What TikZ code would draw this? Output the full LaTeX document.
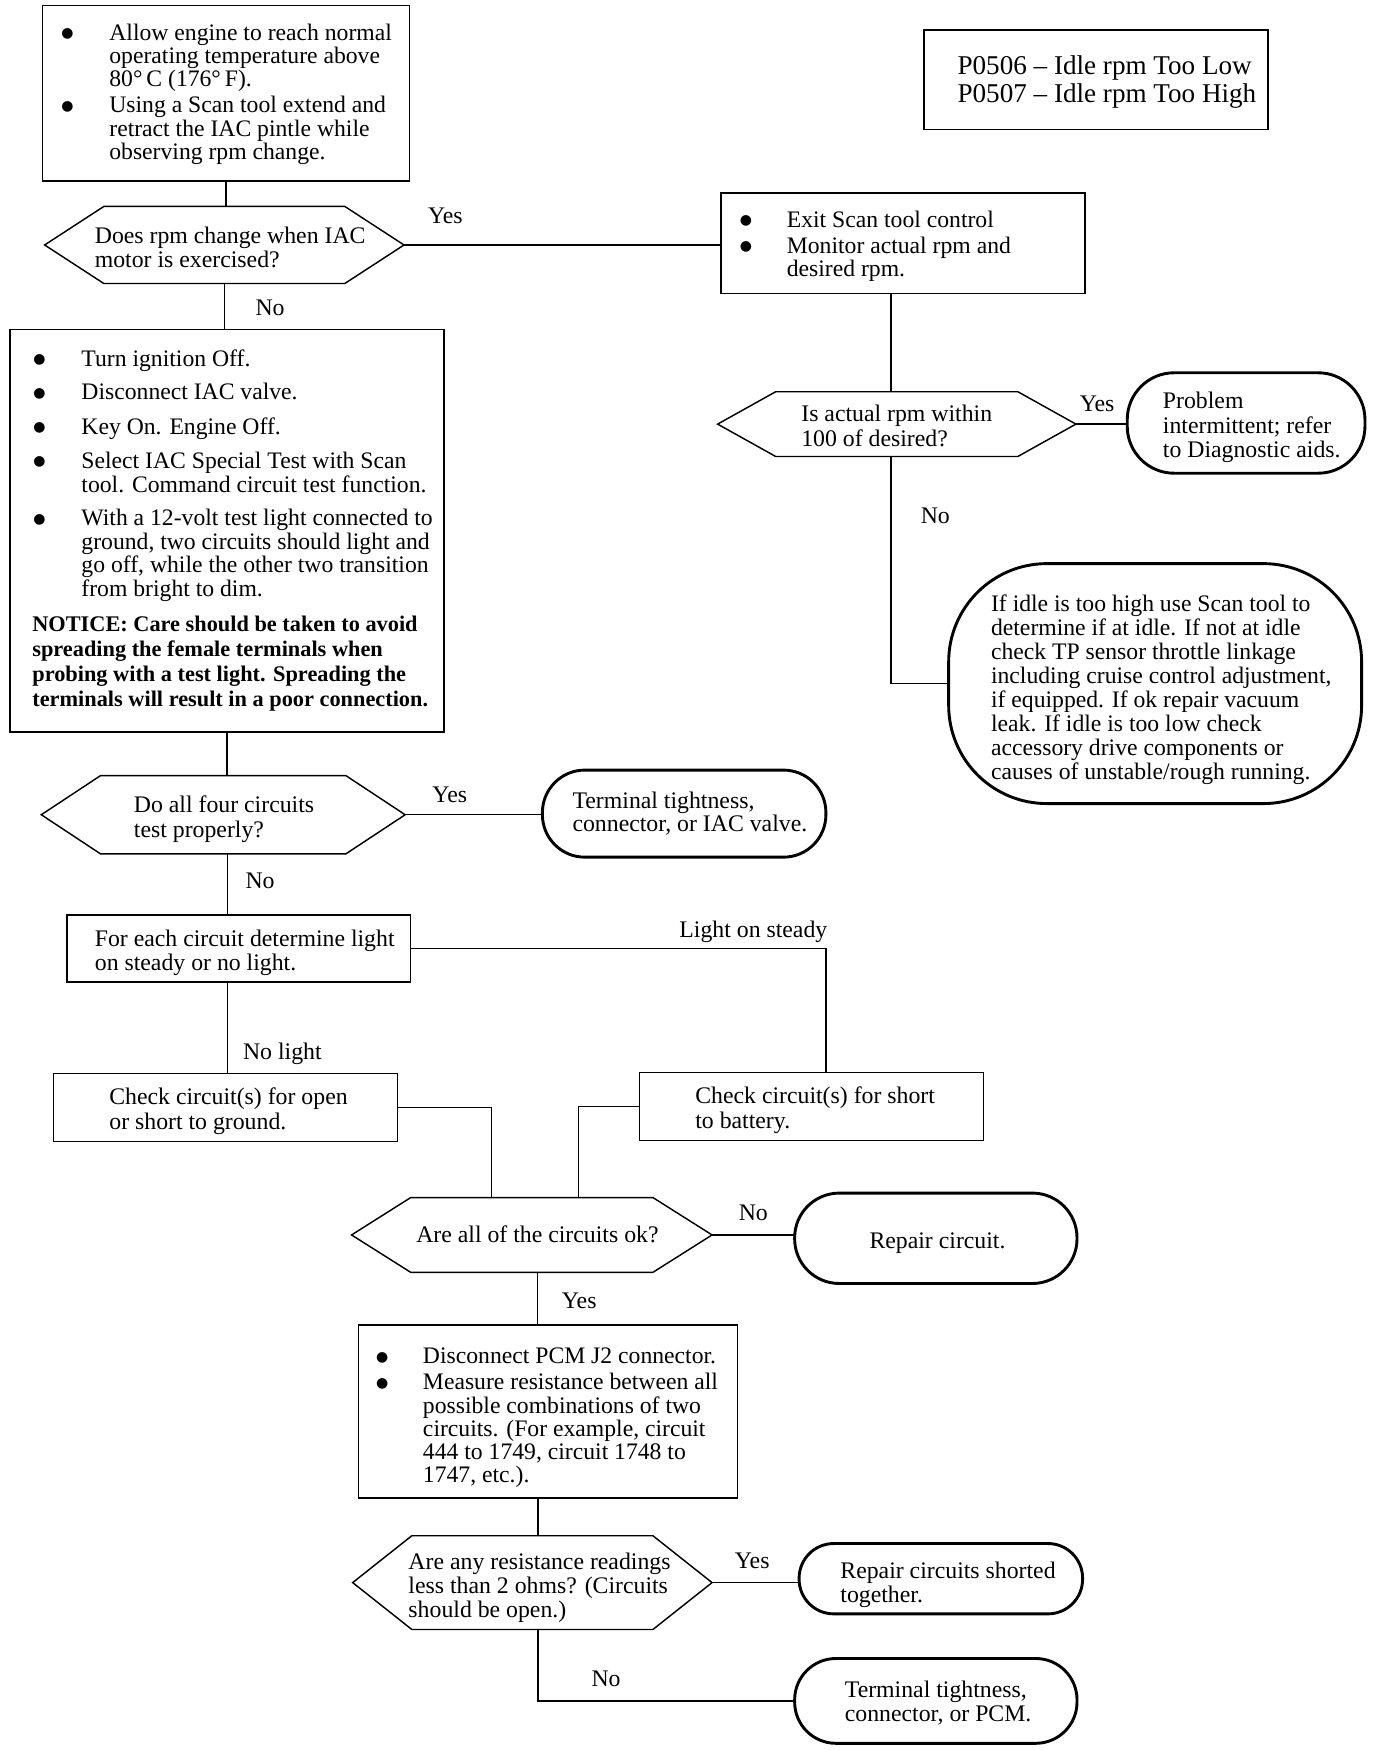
\documentclass[tikz,border=0pt]{standalone}
\usepackage{fontspec}
\setmainfont{Liberation Serif}
\newfontfamily\bulfont{DejaVu Sans}
\usetikzlibrary{calc}
\newcommand{\fsz}[2]{\fontsize{#1}{#2}\selectfont}
\newcommand{\bu}{\raisebox{2.5pt}{\bulfont\fontsize{12.5}{12.5}\selectfont ●}}
\newcommand{\lines}[1]{\begin{tabular}[t]{@{}l@{}}#1\end{tabular}}
\newcommand{\blines}[2]{\begin{tabular}[t]{@{}p{#1}@{}l@{}}#2\end{tabular}}
\newcommand{\hexdraw}[2]{\draw[conn] (#1.west) -- ([xshift=#2pt]#1.north west) -- ([xshift=-#2pt]#1.north east) -- (#1.east) -- ([xshift=-#2pt]#1.south east) -- ([xshift=#2pt]#1.south west) -- cycle;}
\begin{document}
\begin{tikzpicture}[x=1pt,y=-1pt,
  box/.style={draw, line width=1.3pt, inner sep=0pt, outer sep=0pt, anchor=north west},
  term/.style={draw, line width=2.6pt, inner sep=0pt, outer sep=0pt, anchor=north west},
  hexa/.style={inner sep=0pt, outer sep=0pt, anchor=north west},
  txt/.style={inner sep=0pt, outer sep=0pt, anchor=base west},
  lbl/.style={inner sep=0pt, outer sep=0pt, anchor=base, font=\fsz{21.3}{22}},
  conn/.style={line width=1.3pt}]
\fill[white] (0,0) rectangle (1233,1568);
\useasboundingbox (0,0) rectangle (1233,1568);

% ---------- shapes ----------
\node[box, minimum width=329pt, minimum height=157pt] (b1) at (38,5) {};
\node[box, minimum width=308pt, minimum height=89pt] (title) at (828,27) {};
\node[hexa, minimum width=322pt, minimum height=69pt] (d1) at (40,185) {};
\hexdraw{d1}{53}
\node[box, minimum width=326pt, minimum height=90pt] (e) at (646,173) {};
\node[hexa, minimum width=321pt, minimum height=58pt] (d2) at (643,351) {};
\hexdraw{d2}{52}
\node[term, rounded corners=42pt, minimum width=213pt, minimum height=90pt] (t1) at (1010,334) {};
\node[term, rounded corners=88pt, minimum width=370pt, minimum height=215pt] (big) at (850,505) {};
\node[box, minimum width=389pt, minimum height=361pt] (b3) at (9,295) {};
\node[hexa, minimum width=326pt, minimum height=70pt] (d3) at (37,695) {};
\hexdraw{d3}{53}
\node[term, rounded corners=38pt, minimum width=254pt, minimum height=78pt] (t2) at (486,690) {};
\node[box, minimum width=308pt, minimum height=60pt] (b4) at (60,820) {};
\node[box, minimum width=308pt, minimum height=61pt] (b5) at (48,962) {};
\node[box, minimum width=308pt, minimum height=61pt] (b6) at (573,961) {};
\node[hexa, minimum width=323pt, minimum height=67pt] (d4) at (315,1073) {};
\hexdraw{d4}{53}
\node[term, rounded corners=40pt, minimum width=253pt, minimum height=81pt] (t3) at (712,1069) {};
\node[box, minimum width=340pt, minimum height=155pt] (b7) at (321,1187) {};
\node[hexa, minimum width=322pt, minimum height=84pt] (d5) at (316,1376) {};
\hexdraw{d5}{53}
\node[term, rounded corners=31pt, minimum width=254pt, minimum height=63pt] (t4) at (716,1383) {};
\node[term, rounded corners=37pt, minimum width=253pt, minimum height=76pt] (t5) at (712,1486) {};

% ---------- texts ----------
\node[txt, font=\fsz{21.2}{20.5}] (tb1) at (55,36) {\blines{43pt}{%
\bu & Allow engine to reach normal\\
 & operating temperature above\\
 & 80°\,C (176°\,F).\\[2.5pt]
\bu & Using a Scan tool extend and\\
 & retract the IAC pintle while\\
 & observing rpm change.}};
\node[txt, font=\fsz{24.3}{25}] (ttitle) at (858,67) {\lines{P0506 -- Idle rpm Too Low\\ P0507 -- Idle rpm Too High}};
\node[txt, font=\fsz{21.3}{22}] (td1) at (85,218) {\lines{Does rpm change when IAC\\ motor is exercised?}};
\node[txt, font=\fsz{21.2}{21}] (te) at (663,204) {\blines{42pt}{%
\bu & Exit Scan tool control\\[2pt]
\bu & Monitor actual rpm and\\
 & desired rpm.}};
\node[txt, font=\fsz{21.3}{22}] (td2) at (718,378) {\lines{Is actual rpm within\\ 100 of desired?}};
\node[txt, font=\fsz{21.3}{22}] (tt1) at (1042,366) {\lines{Problem\\ intermittent; refer\\ to Diagnostic aids.}};
\node[txt, font=\fsz{21.2}{21.5}] (tbig) at (888,548) {\lines{If idle is too high use Scan tool to\\
determine if at idle. If not at idle\\
check TP sensor throttle linkage\\
including cruise control adjustment,\\
if equipped. If ok repair vacuum\\
leak. If idle is too low check\\
accessory drive components or\\
causes of unstable/rough running.}};
\node[txt, font=\fsz{21.2}{20.5}] (tb3) at (30,328) {\blines{43pt}{%
\bu & Turn ignition Off.\\[9.5pt]
\bu & Disconnect IAC valve.\\[10pt]
\bu & Key On. Engine Off.\\[9.5pt]
\bu & Select IAC Special Test with Scan\\
 & tool. Command circuit test function.\\[9.5pt]
\bu & With a 12-volt test light connected to\\
 & ground, two circuits should light and\\
 & go off, while the other two transition\\
 & from bright to dim.}};
\node[txt, font=\fsz{20}{22.3}\bfseries] (tnotice) at (29,566) {\lines{NOTICE: Care should be taken to avoid\\
spreading the female terminals when\\
probing with a test light. Spreading the\\
terminals will result in a poor connection.}};
\node[txt, font=\fsz{21.3}{22}] (td3) at (120,728) {\lines{Do all four circuits\\ test properly?}};
\node[txt, font=\fsz{21.3}{21}] (tt2) at (513,724) {\lines{Terminal tightness,\\ connector, or IAC valve.}};
\node[txt, font=\fsz{21.3}{22}] (tb4) at (85,848) {\lines{For each circuit determine light\\ on steady or no light.}};
\node[txt, font=\fsz{21.3}{22}] (tb5) at (98,990) {\lines{Check circuit(s) for open\\ or short to ground.}};
\node[txt, font=\fsz{21.3}{22}] (tb6) at (623,989) {\lines{Check circuit(s) for short\\ to battery.}};
\node[txt, font=\fsz{21.3}{22}] (td4) at (373,1113) {Are all of the circuits ok?};
\node[txt, anchor=base, font=\fsz{21.3}{22}] (tt3) at (840,1119) {Repair circuit.};
\node[txt, font=\fsz{21.2}{20.5}] (tb7) at (337,1222) {\blines{42pt}{%
\bu & Disconnect PCM J2 connector.\\[2.5pt]
\bu & Measure resistance between all\\
 & possible combinations of two\\
 & circuits. (For example, circuit\\
 & 444 to 1749, circuit 1748 to\\
 & 1747, etc.).}};
\node[txt, font=\fsz{21.3}{21.5}] (td5) at (366,1406) {\lines{Are any resistance readings\\ less than 2 ohms? (Circuits\\ should be open.)}};
\node[txt, font=\fsz{21.3}{22}] (tt4) at (753,1414) {\lines{Repair circuits shorted\\ together.}};
\node[txt, font=\fsz{21.3}{21}] (tt5) at (757,1521) {\lines{Terminal tightness,\\ connector, or PCM.}};

% ---------- labels ----------
\node[lbl] (l1) at (399,200) {Yes};
\node[lbl] (l2) at (242,283) {No};
\node[lbl] (l3) at (983,369) {Yes};
\node[lbl] (l4) at (838,469) {No};
\node[lbl] (l5) at (403,719) {Yes};
\node[lbl] (l6) at (233,796) {No};
\node[lbl] (l7) at (675,840) {Light on steady};
\node[lbl] (l8) at (253,949) {No light};
\node[lbl] (l9) at (675,1094) {No};
\node[lbl] (l10) at (519,1172) {Yes};
\node[lbl] (l11) at (674,1405) {Yes};
\node[lbl] (l12) at (543,1511) {No};

% ---------- connectors ----------
\draw[conn] (b1.south) -- (b1.south |- d1.north);
\draw[conn] (d1.east) -- (d1.east -| e.west);
\draw[conn] (d1.south) -- (d1.south |- b3.north);
\draw[conn] ([xshift=-5pt]d2.north) -- ([xshift=-5pt]d2.north |- e.south);
\draw[conn] (d2.east) -- (d2.east -| t1.west);
\draw[conn] ([xshift=-5pt]d2.south) |- (big.west);
\draw[conn] (b3.south) -- (b3.south |- d3.north);
\draw[conn] (d3.east) -- (d3.east -| t2.west);
\draw[conn] ([xshift=4pt]d3.south) -- ([xshift=4pt]d3.south |- b4.north);
\draw[conn] (b4.east) -| ([xshift=13pt]b6.north);
\draw[conn] ([xshift=2pt]b5.north) -- ([xshift=2pt]b5.north |- b4.south);
\draw[conn] (b5.east) -| ([xshift=-36pt]d4.north);
\draw[conn] (b6.west) -| ([xshift=42pt]d4.north);
\draw[conn] (d4.east) -- (d4.east -| t3.west);
\draw[conn] ([xshift=5pt]d4.south) -- ([xshift=5pt]d4.south |- b7.north);
\draw[conn] ([xshift=5pt]d5.north) -- ([xshift=5pt]d5.north |- b7.south);
\draw[conn] (d5.east) -- (d5.east -| t4.west);
\draw[conn] ([xshift=5pt]d5.south) |- (t5.west);
\end{tikzpicture}
\end{document}
